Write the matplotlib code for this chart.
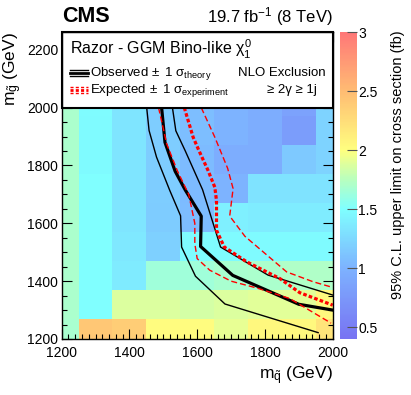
import numpy as np
import matplotlib
matplotlib.use("Agg")
import matplotlib.pyplot as plt
from matplotlib.colors import LinearSegmentedColormap, Normalize
from matplotlib.patches import Rectangle
from matplotlib.ticker import MultipleLocator

plt.rcParams['font.family'] = ['Liberation Sans', 'DejaVu Sans']
plt.rcParams['mathtext.fontset'] = 'custom'
plt.rcParams['mathtext.rm'] = 'Liberation Sans'
plt.rcParams['mathtext.it'] = 'Liberation Sans'
plt.rcParams['mathtext.bf'] = 'Liberation Sans:bold'
plt.rcParams['lines.scale_dashes'] = False

# --- datos: masas (GeV) y limite 95% CL (fb) ---
m_squark = [1200, 1300, 1400, 1500, 1600, 1700, 1800, 1900, 2000]
m_gluino = [1220, 1320, 1420, 1520, 1620, 1720, 1820, 1920, 2020]

lim_1220 = [1.68, 2.42, 2.38, 2.02, 2.02, 1.92, 2.05, 2.05, 2.20]
lim_1320 = [1.70, 1.50, 1.88, 1.88, 1.85, 1.88, 1.90, 1.90, 2.05]
lim_1420 = [1.70, 1.50, 1.37, 1.64, 1.64, 1.68, 1.70, 1.72, 1.72]
lim_1520 = [1.70, 1.50, 1.35, 1.20, 1.48, 1.47, 1.47, 1.47, 1.47]
lim_1620 = [1.70, 1.50, 1.33, 1.17, 1.07, 1.40, 1.38, 1.38, 1.38]
lim_1720 = [1.70, 1.50, 1.33, 1.18, 1.05, 1.00, 1.32, 1.32, 1.32]
lim_1820 = [1.70, 1.47, 1.33, 1.18, 1.05, 0.95, 0.95, 1.15, 1.22]
lim_1920 = [1.70, 1.47, 1.33, 1.18, 1.08, 1.00, 0.95, 0.80, 1.22]
lim_2020 = [1.70, 1.48, 1.33, 1.18, 1.08, 1.00, 0.95, 0.85, 1.22]

# contornos de exclusion
obs_x = [1495, 1505, 1535, 1565, 1612, 1610, 1705, 1900, 2000]
obs_y = [2000, 1880, 1780, 1715, 1625, 1520, 1420, 1320, 1300]
obs_lo_x = [1451, 1458, 1480, 1519, 1551, 1554, 1595, 1682, 1957]
obs_lo_y = [2000, 1921, 1829, 1714, 1626, 1518, 1417, 1321, 1222]
obs_hi_x = [1527, 1537, 1565, 1616, 1669, 1809, 2000]
obs_hi_y = [2000, 1920, 1850, 1716, 1518, 1421, 1352]

exp_x = [1562, 1588, 1605, 1632, 1652, 1657, 1657, 1680, 1746, 1844, 1903, 2000]
exp_y = [2000, 1898, 1852, 1783, 1725, 1679, 1576, 1518, 1467, 1409, 1360, 1317]
exp_lo_x = [1486, 1510, 1541, 1575, 1593, 1593, 1600, 1637, 1700, 1780, 1873, 1995]
exp_lo_y = [2000, 1875, 1783, 1700, 1600, 1530, 1478, 1438, 1400, 1375, 1340, 1255]
exp_hi_x = [1612, 1652, 1690, 1706, 1696, 1741, 1864, 1942, 1995]
exp_hi_y = [2000, 1898, 1790, 1720, 1625, 1555, 1432, 1398, 1380]

# paleta tipo ROOT (arcoiris palido)
vmin, vmax = 0.4, 3.0
stops = [(0.4, (0.47, 0.45, 0.95)), (1.0, (0.49, 0.70, 1.0)), (1.5, (0.5, 1.0, 1.0)),
         (1.75, (0.72, 1.0, 0.75)), (2.0, (1.0, 1.0, 0.5)), (2.5, (1.0, 0.74, 0.45)),
         (3.0, (1.0, 0.47, 0.47))]
cmap = LinearSegmentedColormap.from_list(
    "razor", [((v - vmin) / (vmax - vmin), c) for v, c in stops])

z = np.array([lim_1220, lim_1320, lim_1420, lim_1520, lim_1620,
              lim_1720, lim_1820, lim_1920, lim_2020])
xe = np.append(np.array(m_squark) - 50, m_squark[-1] + 50)
ye = np.append(np.array(m_gluino) - 50, m_gluino[-1] + 50)

fig = plt.figure(figsize=(4.11, 3.95), dpi=100)
ax = fig.add_axes([0.150, 0.1418, 0.6595, 0.776])
cax = fig.add_axes([0.827, 0.1418, 0.0414, 0.776])

mesh = ax.pcolormesh(xe, ye, z, cmap=cmap, norm=Normalize(vmin, vmax), zorder=0)

ax.plot(obs_x, obs_y, color='black', lw=2.3, zorder=3)
ax.plot(obs_lo_x, obs_lo_y, color='black', lw=1.0, zorder=3)
ax.plot(obs_hi_x, obs_hi_y, color='black', lw=1.0, zorder=3)
ax.plot(exp_x, exp_y, color='red', lw=2.3, dashes=(2.6, 1.6), zorder=3)
ax.plot(exp_lo_x, exp_lo_y, color='red', lw=1.0, dashes=(4.3, 2.2), zorder=3)
ax.plot(exp_hi_x, exp_hi_y, color='red', lw=1.0, dashes=(4.3, 2.2), zorder=3)

ax.set_xlim(1200, 2000)
ax.set_ylim(1200, 2260)
ax.xaxis.set_major_locator(MultipleLocator(200))
ax.xaxis.set_minor_locator(MultipleLocator(20))
ax.yaxis.set_major_locator(MultipleLocator(200))
ax.yaxis.set_minor_locator(MultipleLocator(50))
ax.tick_params(which='both', direction='in', top=True, right=True, labelsize=10)
ax.tick_params(axis='x', which='both', pad=5)
ax.tick_params(axis='y', which='both', pad=2.5)
ax.tick_params(which='major', length=7, width=0.8)
ax.tick_params(which='minor', length=3.5, width=0.8)
for s in ax.spines.values():
    s.set_linewidth(1.0)
    s.set_zorder(6)

# caja de leyenda
ax.add_patch(Rectangle((0, 0.753), 1, 0.247, transform=ax.transAxes, facecolor='white',
                       edgecolor='black', lw=1.5, zorder=5, clip_on=False))
ax.text(0.03, 0.944, r"Razor - GGM Bino-like $\chi^{0}_{1}$", transform=ax.transAxes,
        fontsize=11.5, va='center', ha='left', zorder=7)
for dy, lw in [(0.010, 1.0), (0.0, 2.0), (-0.010, 1.0)]:
    ax.plot([0.03, 0.097], [0.867 + dy] * 2, color='black', lw=lw,
            transform=ax.transAxes, clip_on=False, zorder=7)
for dy, lw in [(0.010, 1.0), (0.0, 2.0), (-0.010, 1.0)]:
    ax.plot([0.03, 0.097], [0.812 + dy] * 2, color='red', lw=lw, dashes=(2.2, 1.6),
            transform=ax.transAxes, clip_on=False, zorder=7)
ax.text(0.105, 0.867, r"Observed$\,\pm$ 1 $\sigma_{\rm theory}$", transform=ax.transAxes,
        fontsize=9.5, va='center', ha='left', zorder=7)
ax.text(0.105, 0.812, r"Expected$\,\pm$ 1 $\sigma_{\rm experiment}$", transform=ax.transAxes,
        fontsize=9.5, va='center', ha='left', zorder=7)
ax.text(0.975, 0.867, "NLO Exclusion", transform=ax.transAxes,
        fontsize=9.5, va='center', ha='right', zorder=7)
ax.text(0.94, 0.812, "≥ 2γ ≥ 1j", transform=ax.transAxes,
        fontsize=9.5, va='center', ha='right', zorder=7)

# textos CMS
fig.text(0.151, 0.958, "CMS", fontsize=15.5, fontweight='bold', ha='left', va='center')
fig.text(0.81, 0.957, r"19.7 fb$^{-1}$ (8 TeV)", fontsize=12, ha='right', va='center')
fig.text(0.032, 0.92, r"m$_{\tilde{g}}$ (GeV)", fontsize=12.5, rotation=90, ha='center', va='top')
fig.text(0.81, 0.05, r"m$_{\tilde{q}}$ (GeV)", fontsize=12.5, ha='right', va='center')

# barra de color
cb = fig.colorbar(mesh, cax=cax)
cb.outline.set_visible(False)
cb.set_ticks([0.5, 1, 1.5, 2, 2.5, 3])
cb.set_ticklabels(['0.5', '1', '1.5', '2', '2.5', '3'])
cax.tick_params(direction='in', length=7, width=0.8, color='#555555', labelsize=10, pad=1)
cax.minorticks_off()
fig.text(0.968, 0.922, "95% C.L. upper limit on cross section (fb)", fontsize=10.5,
         rotation=90, ha='center', va='top')

fig.savefig("out.png", dpi=100)
